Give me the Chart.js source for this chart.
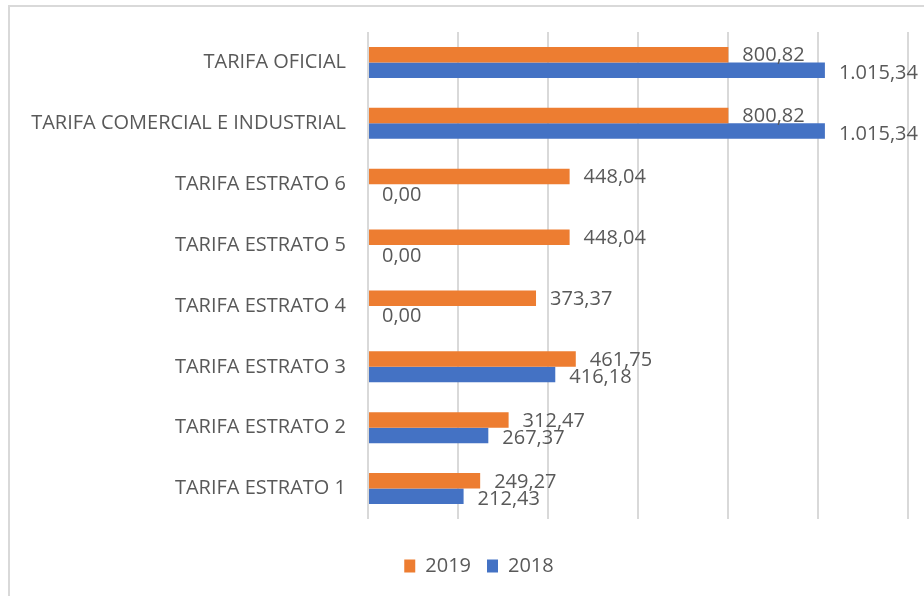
<!DOCTYPE html>
<html>
<head>
<meta charset="utf-8">
<script src="https://cdn.jsdelivr.net/npm/chart.js@4.4.0/dist/chart.umd.js"></script>
<style>
  html, body { margin: 0; padding: 0; background: #fff; overflow: hidden; }
  #frame { position: absolute; left: 8px; top: 5px; width: 1000px; height: 700px; border: 2px solid #d9d9d9; box-sizing: border-box; }
  #wrap { position: absolute; left: 0; top: 0; width: 924px; height: 596px; }
</style>
</head>
<body>
<div id="frame"></div>
<div id="wrap"><canvas id="chart"></canvas></div>
<script>
// categorias y valores
const categorias = [
  'TARIFA OFICIAL',
  'TARIFA COMERCIAL E INDUSTRIAL',
  'TARIFA ESTRATO 6',
  'TARIFA ESTRATO 5',
  'TARIFA ESTRATO 4',
  'TARIFA ESTRATO 3',
  'TARIFA ESTRATO 2',
  'TARIFA ESTRATO 1'
];
const valores2019 = [800.82, 800.82, 448.04, 448.04, 373.37, 461.75, 312.47, 249.27];
const valores2018 = [1015.34, 1015.34, 0, 0, 0, 416.18, 267.37, 212.43];
const series = ['2019', '2018'];

// formato 1.015,34
function formatoNumero(v) {
  const partes = v.toFixed(2).split('.');
  const entero = partes[0].replace(/\B(?=(\d{3})+(?!\d))/g, '.');
  return entero + ',' + partes[1];
}

// etiquetas de valor al final de cada barra (sin plugin externo)
const etiquetasValor = {
  id: 'etiquetasValor',
  afterLayout(chart) {
    // la leyenda del original va centrada en el marco, no en el canvas
    if (chart.legend) chart.legend.left = 50;
  },
  afterDatasetsDraw(chart) {
    const ctx = chart.ctx;
    ctx.save();
    ctx.font = '20px "Open Sans", sans-serif';
    ctx.fillStyle = '#595959';
    ctx.textAlign = 'left';
    ctx.textBaseline = 'middle';
    chart.data.datasets.forEach((ds, i) => {
      const meta = chart.getDatasetMeta(i);
      meta.data.forEach((bar, j) => {
        const dy = i === 0 ? 1 : 3;
        ctx.fillText(formatoNumero(ds.data[j]), bar.x + 14, bar.y + dy);
      });
    });
    ctx.restore();
  }
};

const canvas = document.getElementById('chart');
new Chart(canvas, {
  type: 'bar',
  data: {
    labels: categorias,
    datasets: [
      { label: series[0], data: valores2019, backgroundColor: '#ED7D31' },
      { label: series[1], data: valores2018, backgroundColor: '#4472C4' }
    ]
  },
  options: {
    indexAxis: 'y',
    responsive: true,
    maintainAspectRatio: false,
    animation: false,
    categoryPercentage: 0.51,
    barPercentage: 1,
    layout: { padding: { top: 32, right: 16, bottom: 10, left: 0 } },
    scales: {
      x: {
        min: 0,
        max: 1200,
        ticks: { stepSize: 200, display: false },
        grid: { color: '#d9d9d9', lineWidth: 2, drawTicks: false },
        border: { display: false },
        afterFit(scale) { scale.height = 21; }
      },
      y: {
        grid: { display: false },
        border: { display: false },
        ticks: {
          color: '#595959',
          padding: 14,
          font: { family: '"Open Sans", sans-serif', size: 20 }
        },
        afterFit(scale) { scale.width = 368; }
      }
    },
    plugins: {
      legend: {
        position: 'bottom',
        labels: {
          boxWidth: 11,
          boxHeight: 13,
          padding: 16,
          color: '#595959',
          font: { family: '"Open Sans", sans-serif', size: 20 }
        }
      },
      tooltip: { enabled: false }
    }
  },
  plugins: [etiquetasValor]
});
</script>
</body>
</html>
